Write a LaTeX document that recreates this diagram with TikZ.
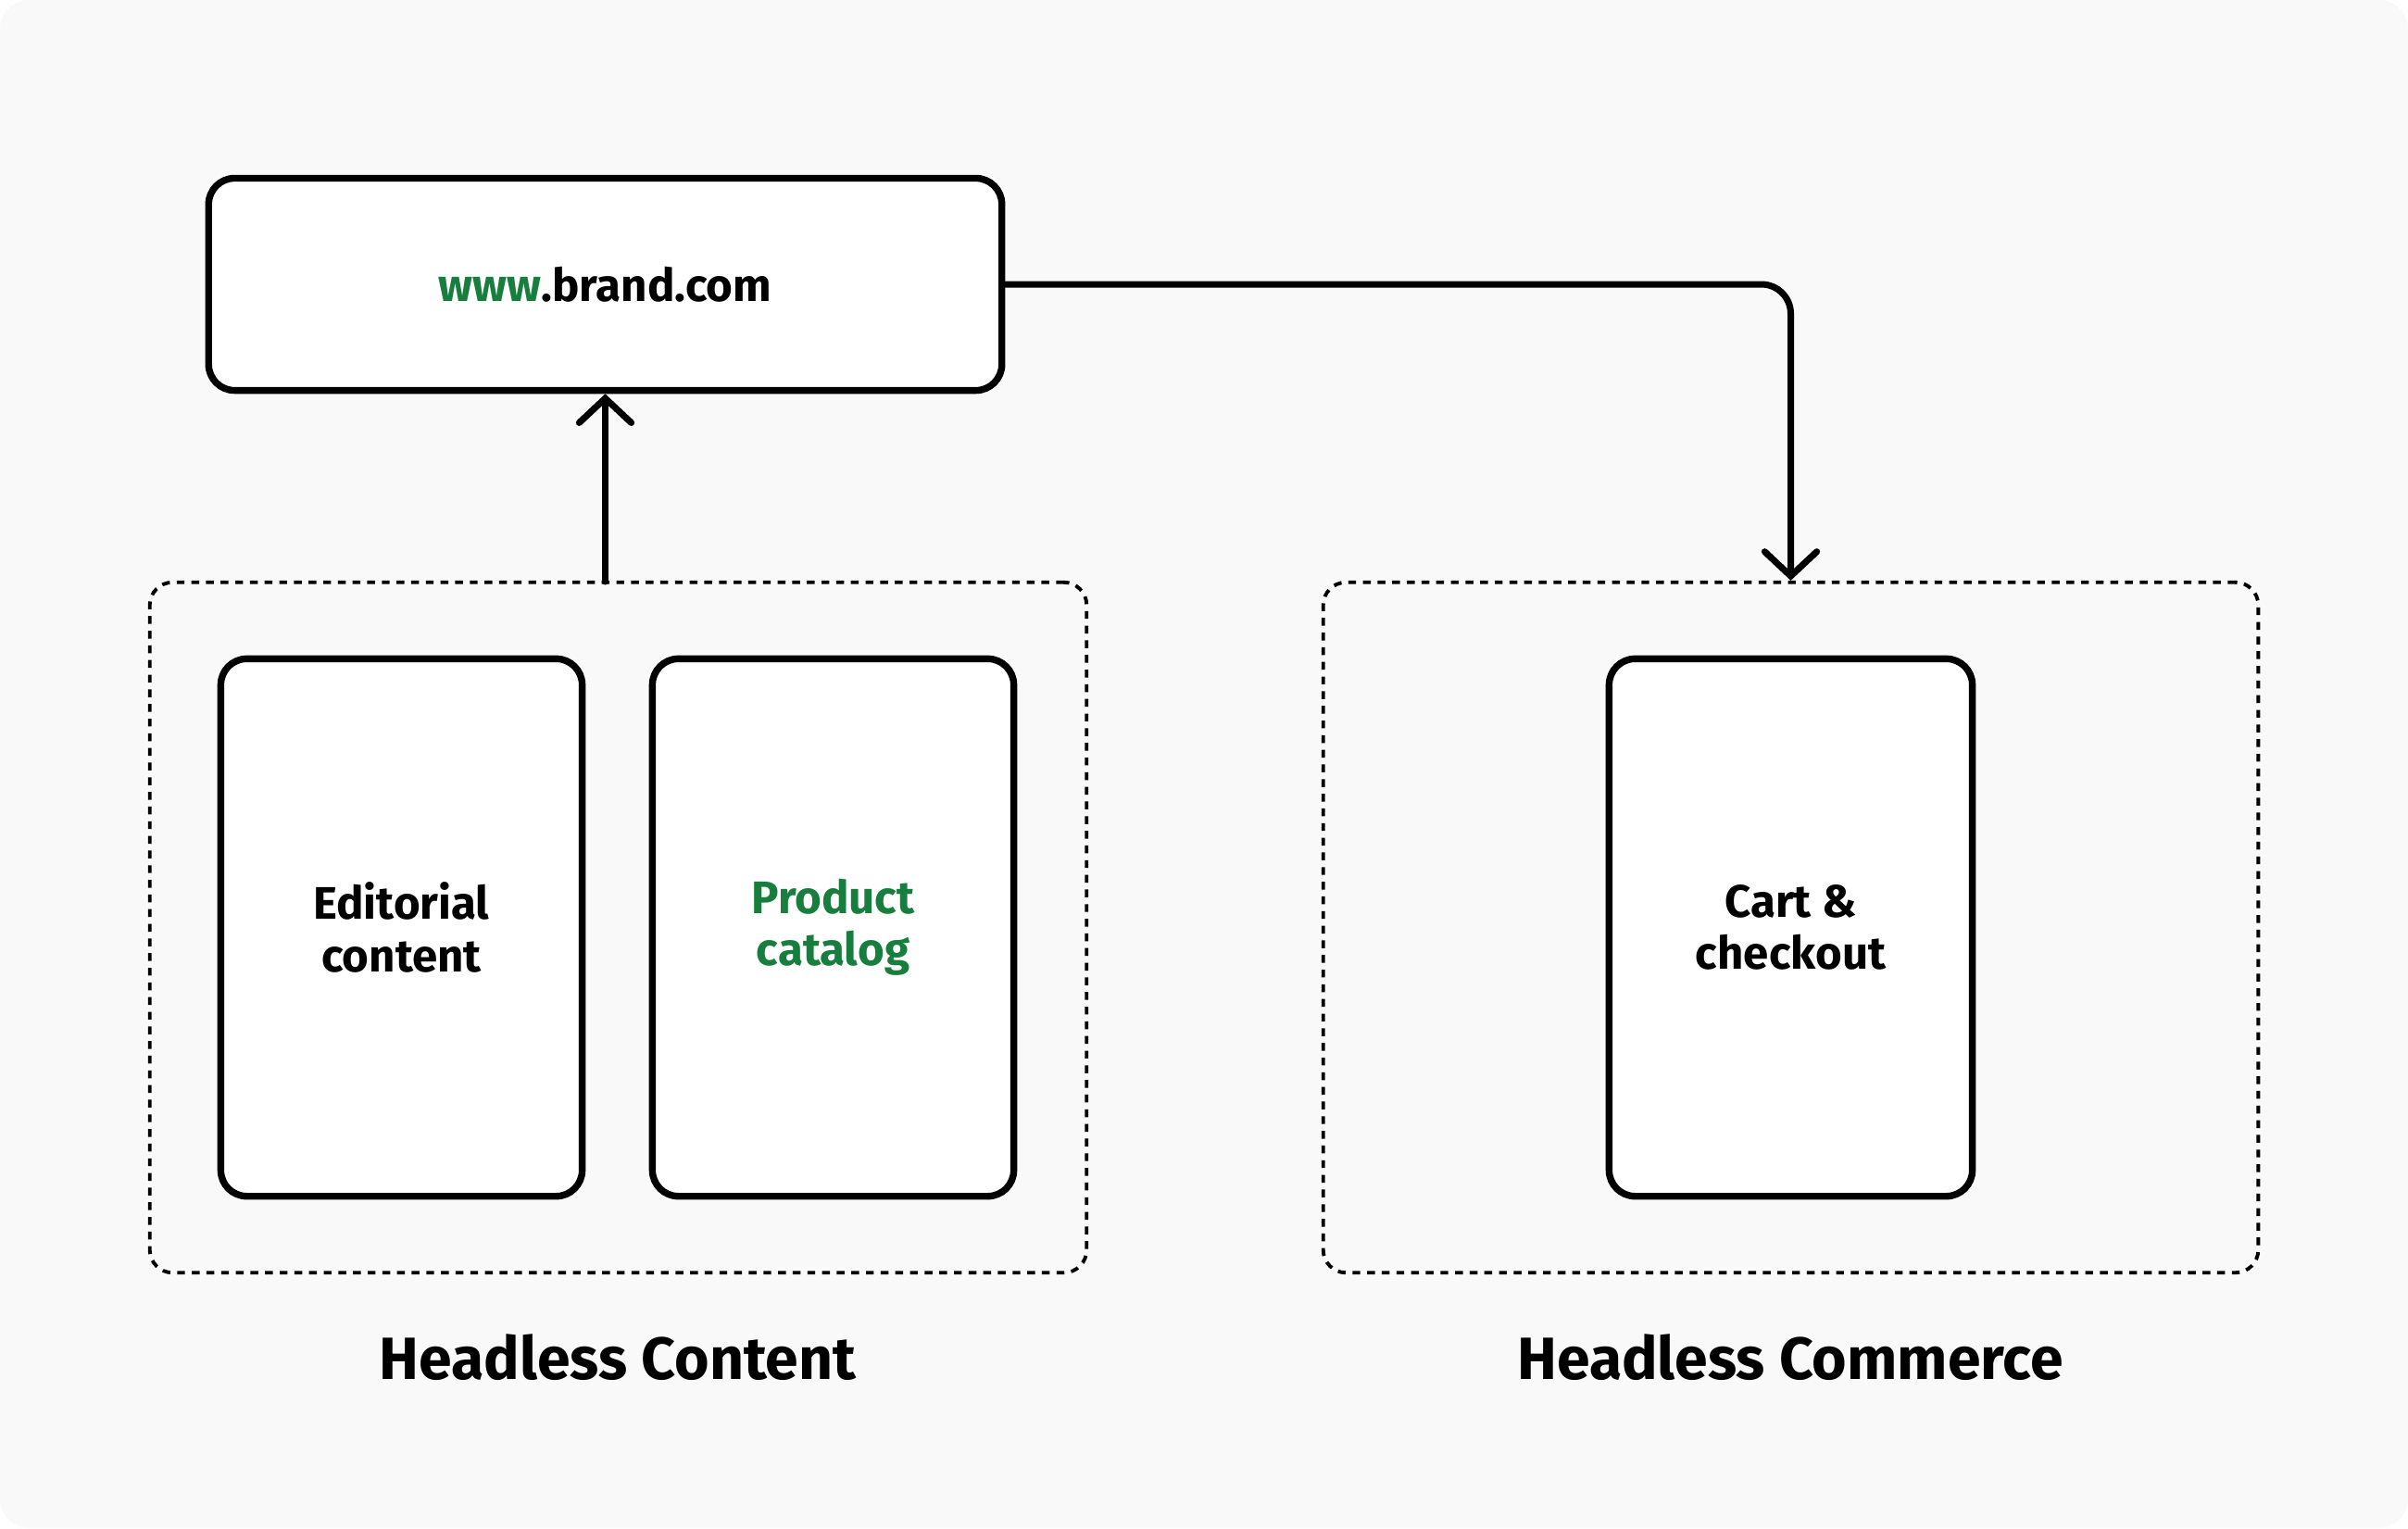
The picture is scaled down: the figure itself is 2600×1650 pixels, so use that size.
\documentclass[tikz,border=0pt]{standalone}
\usepackage{fontspec}
\setmainfont{Fira Sans}
\usetikzlibrary{arrows.meta}
\definecolor{bg}{HTML}{F9F9F9}
\definecolor{brandgreen}{HTML}{177E3D}
\tikzset{
  solidbox/.style={draw=black, line width=2.1pt, fill=white, rounded corners=8pt, align=center,
    font=\fontsize{14}{16}\selectfont\bfseries},
  groupbox/.style={draw=black, line width=1.1pt, dash pattern=on 2.4pt off 2.1pt, rounded corners=7pt},
  grouplabel/.style={font=\fontsize{18.3}{20}\selectfont\bfseries},
  conn/.style={line width=2pt, line cap=round, line join=round,
    -{Straight Barb[length=7.5pt,width=16pt,line width=2pt,line cap=round]}},
}
\begin{document}
\begin{tikzpicture}[x=0.01cm,y=-0.01cm]
\useasboundingbox (0,0) rectangle (2600,1650);
\fill[white] (0,0) rectangle (2600,1650);
\fill[bg, rounded corners=9pt] (0,0) rectangle (2600,1650);

\node[solidbox, minimum width=8.56cm, minimum height=2.29cm] (web) at (653.5,307) {\textcolor{brandgreen}{www}.brand.com};

\node[groupbox, minimum width=10.11cm, minimum height=7.45cm] (content) at (667.5,1001.5) {};
\node[groupbox, minimum width=10.09cm, minimum height=7.45cm] (commerce) at (1933.5,1001.5) {};

\node[solidbox, minimum width=3.90cm, minimum height=5.80cm] (editorial) at (433.5,1001.5) {Editorial\\content};
\node[solidbox, minimum width=3.90cm, minimum height=5.80cm] (product) at (899.5,1001.5) {\textcolor{brandgreen}{Product}\\\textcolor{brandgreen}{catalog}};
\node[solidbox, minimum width=3.92cm, minimum height=5.80cm] (cart) at (1933.5,1001.5) {Cart \&\\checkout};

\node[grouplabel] (contentlabel) at (667,1466) {Headless Content};
\node[grouplabel] (commercelabel) at (1933,1466) {Headless Commerce};

\coordinate (upstart) at (653.5,628);
\draw[conn] (upstart) -- (web.south);
\draw[conn, rounded corners=9pt] (web.east) -| (commerce.north);
\end{tikzpicture}
\end{document}
